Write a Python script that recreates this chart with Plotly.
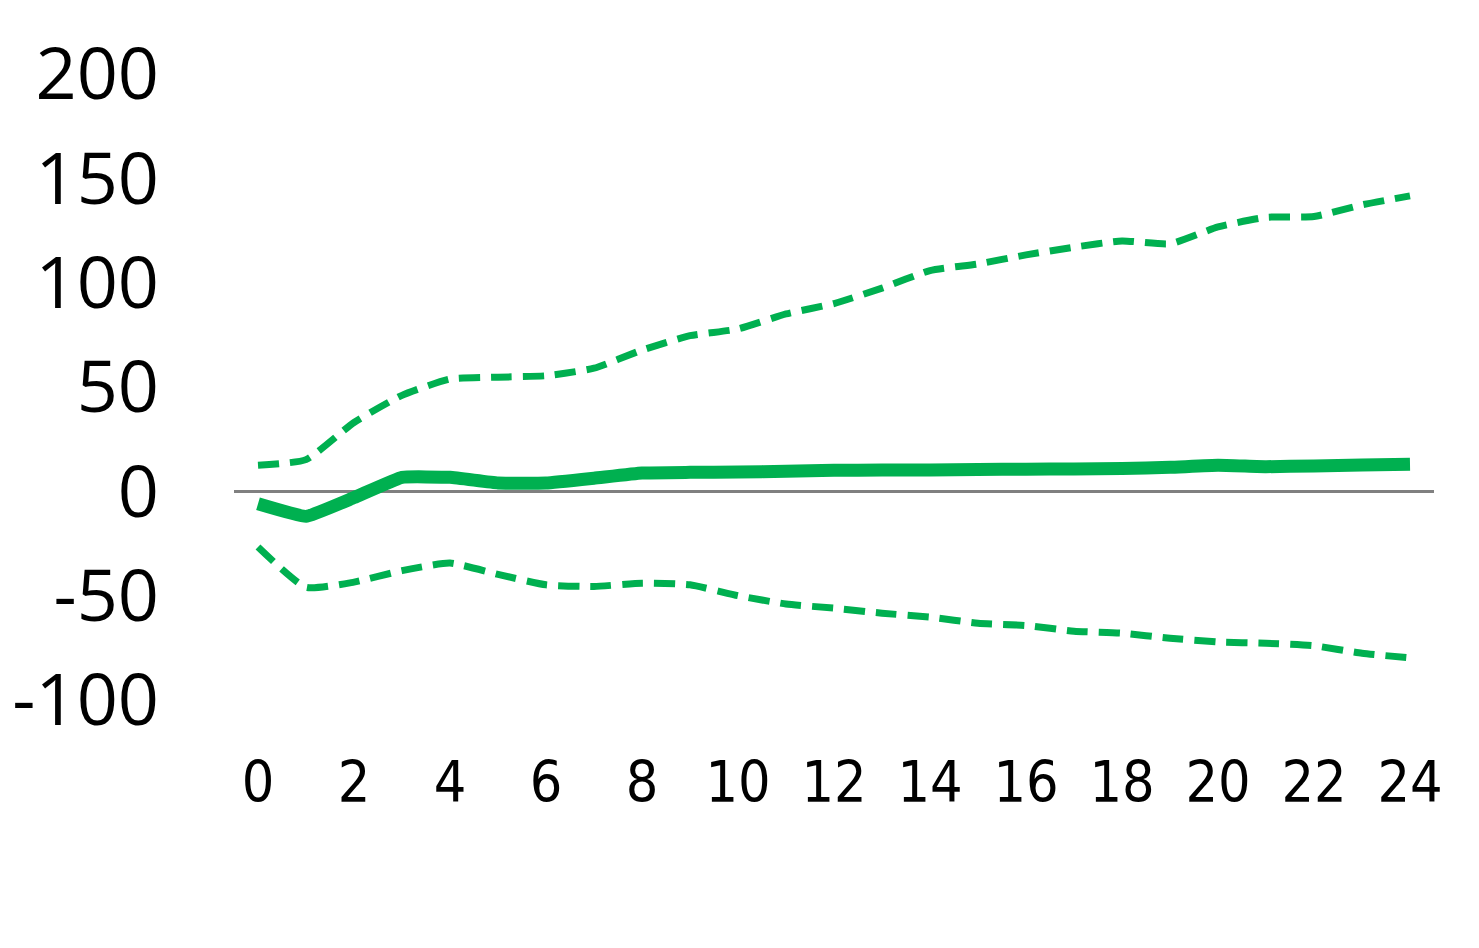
import plotly.graph_objects as go

horizon = list(range(0, 25))
point_estimate = [-6, -12, -3, 6.7, 6.7, 4, 4, 6.3, 8.8, 9.1, 9.3, 9.6, 10.1, 10.2, 10.2, 10.5, 10.6, 10.7, 11.0, 11.5, 12.5, 11.8, 12.2, 12.6, 13.0]
upper_band = [12.5, 15.2, 33, 46, 53.8, 54.7, 55.4, 59, 67.7, 74.6, 77.8, 85, 90, 97.4, 105.8, 109, 113.3, 117, 120, 118.6, 126.7, 131.3, 131.7, 137.3, 141.6]
lower_band = [-26.7, -46, -43.5, -38, -34.4, -39.8, -44.8, -45.6, -44, -44.8, -50, -54, -56, -58.4, -60.3, -63.2, -64.3, -67, -68, -70.4, -72.2, -72.8, -74, -77.6, -79.8]

x_ticks = list(range(0, 25, 2))
y_ticks = [-100, -50, 0, 50, 100, 150, 200]

GREEN = "#00B050"

fig = go.Figure()
fig.add_trace(go.Scatter(x=horizon, y=upper_band, mode="lines",
                         line=dict(color=GREEN, width=7, dash="21px,11px", shape="spline", smoothing=0.5)))
fig.add_trace(go.Scatter(x=horizon, y=lower_band, mode="lines",
                         line=dict(color=GREEN, width=7, dash="21px,11px", shape="spline", smoothing=0.5)))
fig.add_trace(go.Scatter(x=horizon, y=point_estimate, mode="lines",
                         line=dict(color=GREEN, width=13, shape="spline", smoothing=0.3)))

fig.update_layout(
    width=1471, height=940,
    margin=dict(l=226, r=45, t=66, b=248),
    paper_bgcolor="white", plot_bgcolor="white",
    showlegend=False,
)
fig.update_xaxes(
    range=[-0.5, 24.5], tickvals=x_ticks, ticktext=[str(v) for v in x_ticks],
    showgrid=False, zeroline=False, showline=False, automargin=False,
    tickfont=dict(family="DejaVu Sans Condensed, Liberation Sans Narrow, Open Sans", size=57, color="black"),
    ticklabelstandoff=44,
)
fig.update_yaxes(
    range=[-100, 200], tickvals=y_ticks, ticktext=[str(v) for v in y_ticks],
    showgrid=False, zeroline=True, zerolinecolor="#808080", zerolinewidth=2.5,
    showline=False, automargin=False,
    tickfont=dict(family="Open Sans", size=72, color="black"),
    ticklabelstandoff=74,
)

fig.write_html("out.html")
